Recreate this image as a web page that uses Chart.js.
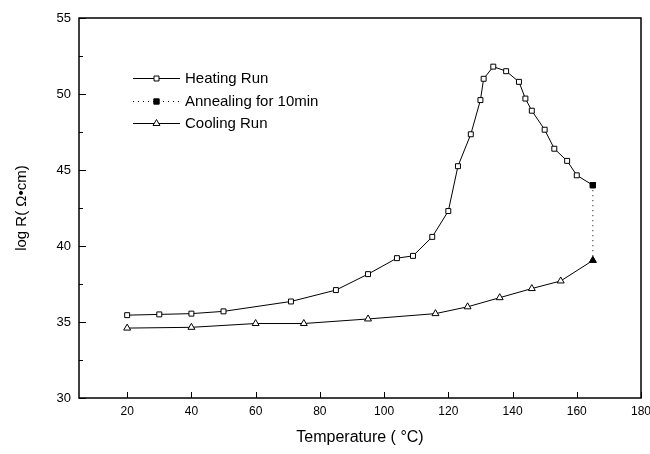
<!DOCTYPE html>
<html>
<head>
<meta charset="utf-8">
<script src="https://cdn.jsdelivr.net/npm/chart.js"></script>
<style>
  body { margin: 0; background: #fff; }
  canvas { display: block; }
</style>
</head>
<body>
<canvas id="chart" width="650" height="454"></canvas>
<script>
// values
const heatingT = [20, 30, 40, 50, 71, 85, 95, 104, 109, 115, 120, 123, 127, 130, 131, 134, 138, 142, 144, 146, 150, 153, 157, 160, 165];
const heatingLogR = [35.45, 35.5, 35.55, 35.7, 36.35, 37.1, 38.15, 39.2, 39.35, 40.6, 42.3, 45.25, 47.35, 49.6, 51.0, 51.8, 51.5, 50.8, 49.7, 48.9, 47.65, 46.4, 45.6, 44.65, 44.0];

const annealingT = [165, 165];
const annealingLogR = [44.0, 39.05];

const coolingT = [20, 40, 60, 75, 95, 116, 126, 136, 146, 155, 165];
const coolingLogR = [34.6, 34.65, 34.9, 34.9, 35.2, 35.55, 36.0, 36.6, 37.2, 37.7, 39.05];

const seriesLabels = ['Heating Run', 'Annealing for 10min', 'Cooling Run'];
const xTicks = [20, 40, 60, 80, 100, 120, 140, 160, 180];
const yTicks = [30, 35, 40, 45, 50, 55];

const sans = "'Liberation Sans', Arial, sans-serif";

function pts(xs, ys) {
    return xs.map((x, i) => ({ x: x, y: ys[i] }));
}

// box around the plot + inward tick marks
const frameTicks = {
    id: 'frameTicks',
    afterDraw(chart) {
        const ctx = chart.ctx;
        const a = chart.chartArea;
        const xs = chart.scales.x, ys = chart.scales.y;
        ctx.save();
        ctx.strokeStyle = '#000';
        ctx.lineWidth = 1.5;
        ctx.strokeRect(a.left, a.top, a.right - a.left, a.bottom - a.top);
        ctx.lineWidth = 1;
        ctx.beginPath();
        xTicks.forEach(v => {
            let px = Math.round(xs.getPixelForValue(v)) + 0.5;
            ctx.moveTo(px, a.bottom);
            ctx.lineTo(px, a.bottom - 6);
        });
        yTicks.forEach((v, i) => {
            let py = Math.round(ys.getPixelForValue(v)) + 0.5;
            ctx.moveTo(a.left, py);
            ctx.lineTo(a.left + 7, py);
            if (i < yTicks.length - 1) {
                let pm = Math.round(ys.getPixelForValue((v + yTicks[i + 1]) / 2)) + 0.5;
                ctx.moveTo(a.left, pm);
                ctx.lineTo(a.left + 4, pm);
            }
        });
        ctx.stroke();
        ctx.restore();
    }
};

// legend drawn inside the plot, upper left
const innerLegend = {
    id: 'innerLegend',
    afterDraw(chart) {
        const ctx = chart.ctx;
        const x0 = 133, x1 = 180, rowY = [78, 101, 123];
        ctx.save();
        chart.data.datasets.forEach((ds, i) => {
            const y = rowY[i];
            ctx.strokeStyle = '#000';
            ctx.lineWidth = 1;
            ctx.setLineDash(ds.borderDash || []);
            ctx.beginPath();
            ctx.moveTo(x0, y + 0.5);
            ctx.lineTo(x1, y + 0.5);
            ctx.stroke();
            ctx.setLineDash([]);
            const style = Array.isArray(ds.pointStyle) ? ds.pointStyle[0] : ds.pointStyle;
            ctx.fillStyle = ds.pointBackgroundColor;
            Chart.helpers.drawPoint(ctx, { pointStyle: style, radius: ds.pointRadius, borderWidth: 1, rotation: 0 }, (x0 + x1) / 2, y + 0.5);
            ctx.fillStyle = '#000';
            ctx.font = '15px ' + sans;
            ctx.textBaseline = 'middle';
            ctx.fillText(ds.label, 185, y + 1);
        });
        ctx.restore();
    }
};

new Chart(document.getElementById('chart'), {
    type: 'scatter',
    data: {
        datasets: [{
            label: seriesLabels[0],
            data: pts(heatingT, heatingLogR),
            showLine: true,
            borderColor: '#000',
            borderWidth: 1,
            pointStyle: 'rect',
            pointRadius: 3.5,
            pointBorderWidth: 1,
            pointBorderColor: '#000',
            pointBackgroundColor: '#fff',
            order: 2
        }, {
            label: seriesLabels[1],
            data: pts(annealingT, annealingLogR),
            showLine: true,
            borderColor: '#000',
            borderWidth: 1,
            borderDash: [1, 4],
            pointStyle: ['rect', 'triangle'],
            pointRadius: 3.8,
            pointBorderWidth: 1,
            pointBorderColor: '#000',
            pointBackgroundColor: '#000',
            order: 0
        }, {
            label: seriesLabels[2],
            data: pts(coolingT, coolingLogR),
            showLine: true,
            borderColor: '#000',
            borderWidth: 1,
            pointStyle: 'triangle',
            pointRadius: 4,
            pointBorderWidth: 1,
            pointBorderColor: '#000',
            pointBackgroundColor: '#fff',
            order: 1
        }]
    },
    options: {
        responsive: false,
        animation: false,
        devicePixelRatio: 1,
        layout: { padding: { top: 18, right: 9, left: 0, bottom: 0 } },
        plugins: {
            legend: { display: false },
            tooltip: { enabled: false }
        },
        scales: {
            x: {
                type: 'linear',
                min: 5,
                max: 180,
                afterFit: s => { s.height = 56; s.paddingLeft = 0; s.paddingRight = 0; },
                afterBuildTicks: s => { s.ticks = xTicks.map(v => ({ value: v })); },
                grid: { drawOnChartArea: false, drawTicks: false },
                border: { display: false },
                ticks: { color: '#000', padding: 6, font: { family: sans, size: 12 } },
                title: {
                    display: true,
                    text: 'Temperature ( °C)',
                    color: '#000',
                    font: { family: sans, size: 16 },
                    padding: { top: 0, bottom: 7 }
                }
            },
            y: {
                type: 'linear',
                min: 30,
                max: 55,
                afterFit: s => { s.width = 79; s.paddingTop = 0; s.paddingBottom = 0; },
                afterBuildTicks: s => { s.ticks = yTicks.map(v => ({ value: v })); },
                grid: { drawOnChartArea: false, drawTicks: false },
                border: { display: false },
                ticks: { color: '#000', padding: 8, font: { family: sans, size: 13 } },
                title: {
                    display: true,
                    text: 'log R( Ω•cm)',
                    color: '#000',
                    font: { family: sans, size: 15 },
                    padding: { top: 13, bottom: 0 }
                }
            }
        }
    },
    plugins: [frameTicks, innerLegend]
});
</script>
</body>
</html>
